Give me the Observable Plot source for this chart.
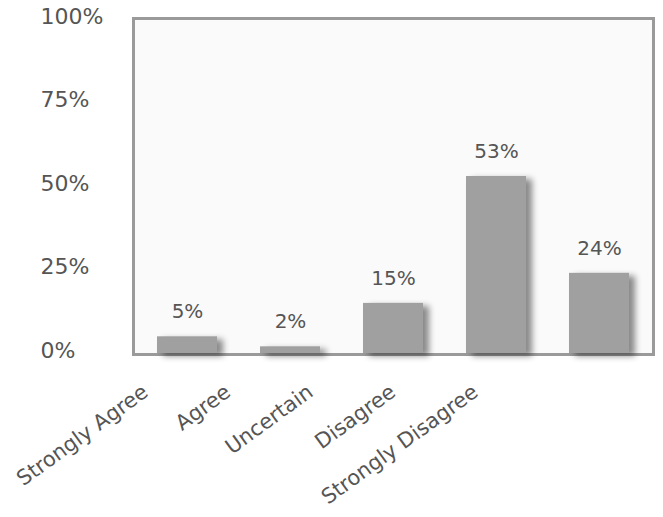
<!DOCTYPE html>
<html>
<head>
<meta charset="utf-8">
<script src="https://cdn.jsdelivr.net/npm/d3@7"></script>
<script src="https://cdn.jsdelivr.net/npm/@observablehq/plot@0.6"></script>
<style>
  html, body { margin: 0; padding: 0; background: #fff; }
  #chart svg { font-family: "DejaVu Sans", Verdana, sans-serif; }
  #chart g[aria-label="bar"] { filter: drop-shadow(6px 3px 3px rgba(0,0,0,0.45)); }
  #chart g[aria-label="frame"] { filter: drop-shadow(2px 3px 2px rgba(0,0,0,0.25)); }
</style>
</head>
<body>
<div id="chart"></div>
<script>
const categories = ["Strongly Agree", "Agree", "Uncertain", "Disagree", "Strongly Disagree"];
const values = [5, 2, 15, 53, 24];
const yTicks = [0, 25, 50, 75, 100];

const data = categories.map((c, i) => ({category: c, value: values[i]}));

const labelMarks = categories.map((c, i) =>
  Plot.text([c], {
    x: d => d, y: () => 0,
    text: d => d,
    rotate: -36,
    textAnchor: "end",
    lineAnchor: "middle",
    dx: -42 - 20.5 * i,
    dy: 36,
    fill: "#555",
    fontSize: 21
  })
);

const chart = Plot.plot({
  width: 663,
  height: 517,
  marginLeft: 134,
  marginRight: 11,
  marginTop: 19,
  marginBottom: 164,
  style: {background: "#fff", fontFamily: "DejaVu Sans, Verdana, sans-serif"},
  x: {domain: categories, paddingInner: 0.42, paddingOuter: 0.21, axis: null},
  y: {domain: [0, 100], axis: null},
  marks: [
    Plot.frame({fill: "#fafafa", stroke: "#9a9a9a", strokeWidth: 3, inset: -1}),
    Plot.barY(data, {x: "category", y: "value", fill: "#a0a0a0"}),
    Plot.text(data, {
      x: "category", y: "value",
      text: d => d.value + "%",
      dy: -25, fill: "#555", fontSize: 20, lineAnchor: "middle"
    }),
    Plot.axisY({
      ticks: yTicks,
      tickFormat: d => d + "%",
      tickSize: 0,
      tickPadding: 0,
      textAnchor: "start",
      dx: -94,
      dy: -3,
      fill: "#555",
      fontSize: 22,
      label: null
    }),
    ...labelMarks
  ]
});
document.getElementById("chart").appendChild(chart);
</script>
</body>
</html>
